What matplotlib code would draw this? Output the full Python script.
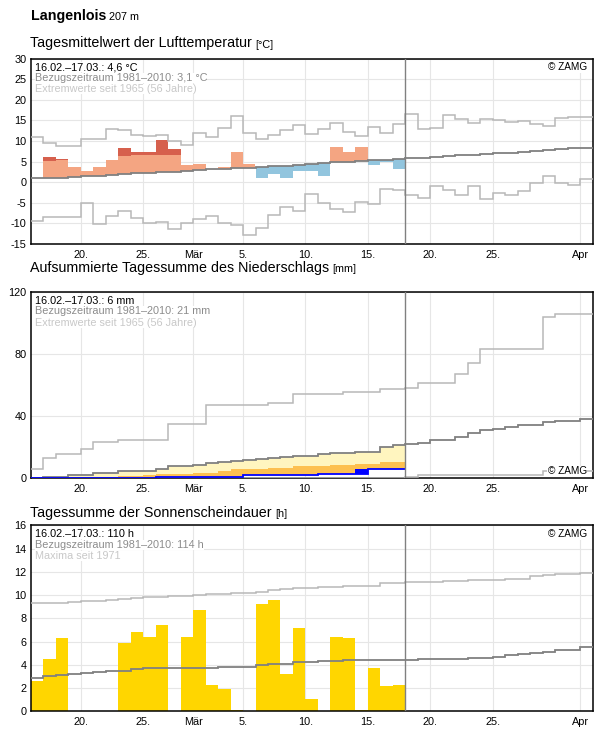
import numpy as np
import matplotlib
matplotlib.use('Agg')
import matplotlib.pyplot as plt

plt.rcParams['font.family'] = ['Liberation Sans', 'DejaVu Sans']
plt.rcParams['axes.unicode_minus'] = False

# ================================
# DATA (day 0 = 16.02., 30 observed days, 45 days shown)
# ================================

tick_days = [4, 9, 13, 17, 22, 27, 32, 37, 44]
tick_labels = ["20.", "25.", "Mär", "5.", "10.", "15.", "20.", "25.", "Apr"]

# temperature [°C]
temp = [1.0, 6.2, 5.7, 3.7, 2.8, 3.7, 5.4, 8.3, 7.4, 7.4,
        10.3, 8.0, 4.2, 4.4, 3.2, 3.7, 7.4, 4.4, 1.1, 2.0,
        1.1, 2.7, 2.8, 1.6, 8.5, 7.3, 8.5, 4.3, 5.0, 3.3]
temp_upper = [5.1, 5.2, 5.5, 5.5, 5.7, 5.8, 6.0, 6.3, 6.5, 6.5,
              6.6, 6.6, 7.0, 7.2, 7.3, 7.5, 7.6, 7.6, 7.8, 8.1,
              8.2, 8.5, 8.6, 8.8, 9.1, 9.2, 9.4, 9.6, 9.7, 9.9]
temp_norm = [1.0, 1.0, 1.1, 1.3, 1.5, 1.6, 1.8, 2.0, 2.2, 2.3,
             2.5, 2.6, 2.8, 3.0, 3.1, 3.3, 3.4, 3.4, 3.6, 3.9,
             4.0, 4.3, 4.4, 4.6, 4.9, 5.0, 5.2, 5.4, 5.5, 5.7,
             5.9, 6.0, 6.1, 6.3, 6.5, 6.6, 6.8, 7.0, 7.2, 7.4,
             7.6, 7.8, 8.0, 8.2, 8.4]
temp_max = [10.9, 9.6, 8.8, 8.8, 10.6, 10.6, 13.0, 12.8, 11.4, 11.2,
            11.5, 10.0, 9.0, 11.9, 11.0, 13.1, 16.1, 11.9, 10.5, 11.4,
            12.6, 13.9, 11.6, 12.9, 14.3, 12.3, 11.3, 13.3, 11.9, 14.1,
            16.5, 12.9, 13.2, 16.3, 15.3, 14.3, 15.3, 15.0, 14.6, 14.8,
            14.1, 13.6, 15.6, 15.9, 15.9]
temp_min = [-9.5, -8.5, -8.5, -8.5, -5.1, -10.2, -8.2, -7.0, -8.7, -10.0,
            -9.7, -11.3, -10.0, -8.9, -8.3, -10.0, -10.5, -12.9, -11.1, -8.0,
            -6.1, -7.0, -2.9, -5.1, -6.4, -7.3, -4.9, -5.3, -1.6, -2.0,
            -3.1, -3.9, -0.8, -2.0, -3.2, -0.8, -4.1, -2.7, -3.2, -2.2,
            -0.2, 1.4, -0.2, -0.7, 0.9]

# precipitation, accumulated [mm]
prec_sum = [0.0, 0.5, 0.5, 0.5, 0.5, 0.5, 0.5, 0.5, 0.5, 0.5,
            0.9, 0.9, 0.9, 0.9, 0.9, 0.9, 0.9, 2.1, 2.1, 2.1,
            2.1, 2.1, 2.1, 2.8, 2.8, 2.8, 2.8, 6.3, 6.3, 6.3]
prec_low = [0.2, 0.3, 0.3, 0.5, 0.5, 0.6, 0.6, 1.5, 1.5, 2.3,
            3.0, 3.0, 3.0, 3.6, 3.6, 4.9, 5.8, 5.8, 5.8, 6.8,
            6.8, 7.7, 7.7, 7.7, 8.6, 8.6, 9.4, 9.4, 10.7, 10.7]
prec_norm = [0.2, 1.0, 1.0, 2.3, 2.3, 3.2, 3.2, 4.5, 4.5, 4.9,
             6.0, 7.9, 7.9, 8.6, 9.6, 10.5, 11.1, 11.6, 12.2, 12.9,
             13.9, 14.6, 14.6, 15.4, 16.1, 16.1, 17.2, 17.2, 19.9, 21.4,
             22.3, 22.9, 24.9, 24.9, 26.4, 29.4, 30.9, 31.8, 33.0, 34.1,
             34.1, 36.3, 36.9, 36.9, 38.0]
prec_max = [5.8, 12.9, 15.4, 15.4, 18.7, 23.6, 23.6, 24.4, 24.4, 24.4,
            24.4, 34.8, 34.8, 34.8, 47.0, 47.0, 47.0, 47.0, 47.0, 48.8,
            48.8, 54.1, 54.1, 54.1, 54.5, 55.4, 55.4, 55.4, 57.5, 57.5,
            58.4, 61.2, 61.2, 61.2, 67.4, 74.1, 83.1, 83.1, 83.1, 83.1,
            83.1, 103.7, 105.8, 105.8, 105.8]
prec_min = [0.2] * 30 + [1.0] + [2.3] * 10 + [4.5] * 4
prec_rain_day = 26
prec_rain = (2.8, 6.0)

# sunshine [h]
sun = [2.6, 4.5, 6.3, 0.0, 0.0, 0.0, 0.0, 5.9, 6.8, 6.4,
       7.4, 0.0, 6.4, 8.7, 2.3, 1.9, 0.1, 0.0, 9.2, 9.6,
       3.2, 7.2, 1.1, 0.0, 6.4, 6.3, 0.1, 3.7, 2.2, 2.3]
sun_norm = [2.85, 3.0, 3.1, 3.2, 3.3, 3.4, 3.45, 3.5, 3.6, 3.7,
            3.7, 3.7, 3.7, 3.75, 3.75, 3.8, 3.8, 3.85, 3.95, 4.05,
            4.1, 4.2, 4.2, 4.3, 4.3, 4.4, 4.4, 4.4, 4.4, 4.4,
            4.42, 4.5, 4.5, 4.5, 4.5, 4.62, 4.62, 4.7, 4.88, 4.97,
            5.0, 5.1, 5.26, 5.26, 5.49]
sun_max = [9.28, 9.3, 9.35, 9.4, 9.45, 9.5, 9.55, 9.65, 9.75, 9.8,
           9.85, 9.9, 9.95, 10.0, 10.05, 10.1, 10.15, 10.2, 10.3, 10.4,
           10.5, 10.6, 10.6, 10.7, 10.7, 10.8, 10.8, 10.8, 11.0, 11.0,
           11.1, 11.1, 11.1, 11.2, 11.2, 11.3, 11.3, 11.3, 11.4, 11.4,
           11.6, 11.7, 11.8, 11.8, 11.9]

# ================================
# STYLE
# ================================

W, H = 596, 729
C_NORM = '#808080'
C_EXT = '#b8b8b8'
C_GRID = '#e6e6e6'
FS = 7.8

fig = plt.figure(figsize=(W / 100, H / 100), dpi=100)
renderer = fig.canvas.get_renderer()


def make_axes(top_px, bottom_px):
    left, right = 30.7, 592.7
    return fig.add_axes([left / W, 1 - bottom_px / H,
                         (right - left) / W, (bottom_px - top_px) / H])


def style_axes(ax, ylim, yticks):
    ax.set_xlim(0, 45)
    ax.set_ylim(*ylim)
    ax.set_xticks(tick_days)
    ax.set_xticklabels(tick_labels)
    ax.set_yticks(yticks)
    ax.tick_params(length=0, labelsize=FS, pad=3)
    ax.tick_params(axis='x', pad=4)
    ax.grid(True, color=C_GRID, lw=0.8)
    ax.set_axisbelow(True)
    for s in ax.spines.values():
        s.set_linewidth(1.1)
        s.set_color('black')
    ax.axvline(30, color=C_NORM, lw=1.0, zorder=6)


def steps(ax, vals, color, lw, z):
    ax.stairs(vals, np.arange(len(vals) + 1), baseline=None,
              color=color, lw=lw, zorder=z)


def title(y_px, main, unit, fs=10.3, weight='normal'):
    t = fig.text(30.5 / W, 1 - y_px / H, main, fontsize=fs,
                 fontweight=weight, va='baseline')
    bb = t.get_window_extent(renderer)
    fig.text(bb.x1 / W + 3 / W, 1 - y_px / H, unit, fontsize=7.8,
             va='baseline')


def info(ax, lines):
    colors = ['black', '#8c8c8c', '#c8c8c8']
    offs = [-8.5, -19.5, -30.6]
    for txt, c, o in zip(lines, colors, offs):
        ax.annotate(txt, xy=(0, 1), xycoords='axes fraction',
                    xytext=(4, o), textcoords='offset pixels',
                    fontsize=FS, color=c, va='center', ha='left', zorder=8,
                    bbox=dict(facecolor='white', edgecolor='none', pad=0.05))


def zamg(ax, top=True):
    ax.annotate('© ZAMG', xy=(1, 1 if top else 0), xycoords='axes fraction',
                xytext=(-6, -8.5 if top else 7), textcoords='offset pixels',
                fontsize=7.2, ha='right', va='center', zorder=8,
                bbox=dict(facecolor='white', edgecolor='none', pad=0.5))


days = np.arange(30)
edges_obs = np.arange(31)

# header
title(20, 'Langenlois', '207 m', weight='bold')

# ================================
# TEMPERATURE
# ================================

ax1 = make_axes(58.7, 244)
style_axes(ax1, (-15, 30), np.arange(-15, 31, 5))
for i in days:
    t, n, u = temp[i], temp_norm[i], temp_upper[i]
    if t > n:
        ax1.bar(i, min(t, u) - n, bottom=n, width=1, align='edge',
                color='#f4a582', lw=0, zorder=2)
        if t > u:
            ax1.bar(i, t - u, bottom=u, width=1, align='edge',
                    color='#d6604d', lw=0, zorder=2)
    elif t < n:
        ax1.bar(i, n - t, bottom=t, width=1, align='edge',
                color='#92c5de', lw=0, zorder=2)
steps(ax1, temp_max, C_EXT, 1.1, 3)
steps(ax1, temp_min, C_EXT, 1.1, 3)
steps(ax1, temp_norm, C_NORM, 1.3, 4)
info(ax1, ['16.02.–17.03.: 4,6 °C', 'Bezugszeitraum 1981–2010: 3,1 °C',
           'Extremwerte seit 1965 (56 Jahre)'])
zamg(ax1)
title(47.5, 'Tagesmittelwert der Lufttemperatur', '[°C]')

# ================================
# PRECIPITATION
# ================================

ax2 = make_axes(292, 478.3)
style_axes(ax2, (0, 120), [0, 40, 80, 120])
p_sum = np.array(prec_sum)
p_low = np.array(prec_low)
p_norm = np.array(prec_norm[:30])
ax2.fill_between(edges_obs, np.append(p_sum, p_sum[-1]),
                 np.append(p_norm, p_norm[-1]), step='post',
                 color='#fff5bf', lw=0, zorder=2)
orange_top = np.minimum(np.maximum(p_low, p_sum), p_norm)
ax2.fill_between(edges_obs, np.append(p_sum, p_sum[-1]),
                 np.append(orange_top, orange_top[-1]), step='post',
                 color='#fdc050', lw=0, zorder=2)
ax2.bar(prec_rain_day, prec_rain[1] - prec_rain[0], bottom=prec_rain[0],
        width=1, align='edge', color='#0000ff', lw=0, zorder=3)
steps(ax2, prec_max, C_EXT, 1.1, 3)
steps(ax2, prec_min, C_EXT, 1.1, 3)
steps(ax2, prec_norm, C_NORM, 1.3, 4)
steps(ax2, prec_sum, '#0000ff', 1.3, 5)
info(ax2, ['16.02.–17.03.: 6 mm', 'Bezugszeitraum 1981–2010: 21 mm',
           'Extremwerte seit 1965 (56 Jahre)'])
zamg(ax2, top=False)
title(272, 'Aufsummierte Tagessumme des Niederschlags', '[mm]')

# ================================
# SUNSHINE
# ================================

ax3 = make_axes(525.3, 711.3)
style_axes(ax3, (0, 16), np.arange(0, 17, 2))
ax3.bar(days, sun, width=1, align='edge', color='#ffd600', lw=0, zorder=2)
steps(ax3, sun_max, C_EXT, 1.1, 3)
steps(ax3, sun_norm, C_NORM, 1.3, 4)
info(ax3, ['16.02.–17.03.: 110 h', 'Bezugszeitraum 1981–2010: 114 h',
           'Maxima seit 1971'])
zamg(ax3)
title(517, 'Tagessumme der Sonnenscheindauer', '[h]')

fig.savefig('out.png', dpi=100)
